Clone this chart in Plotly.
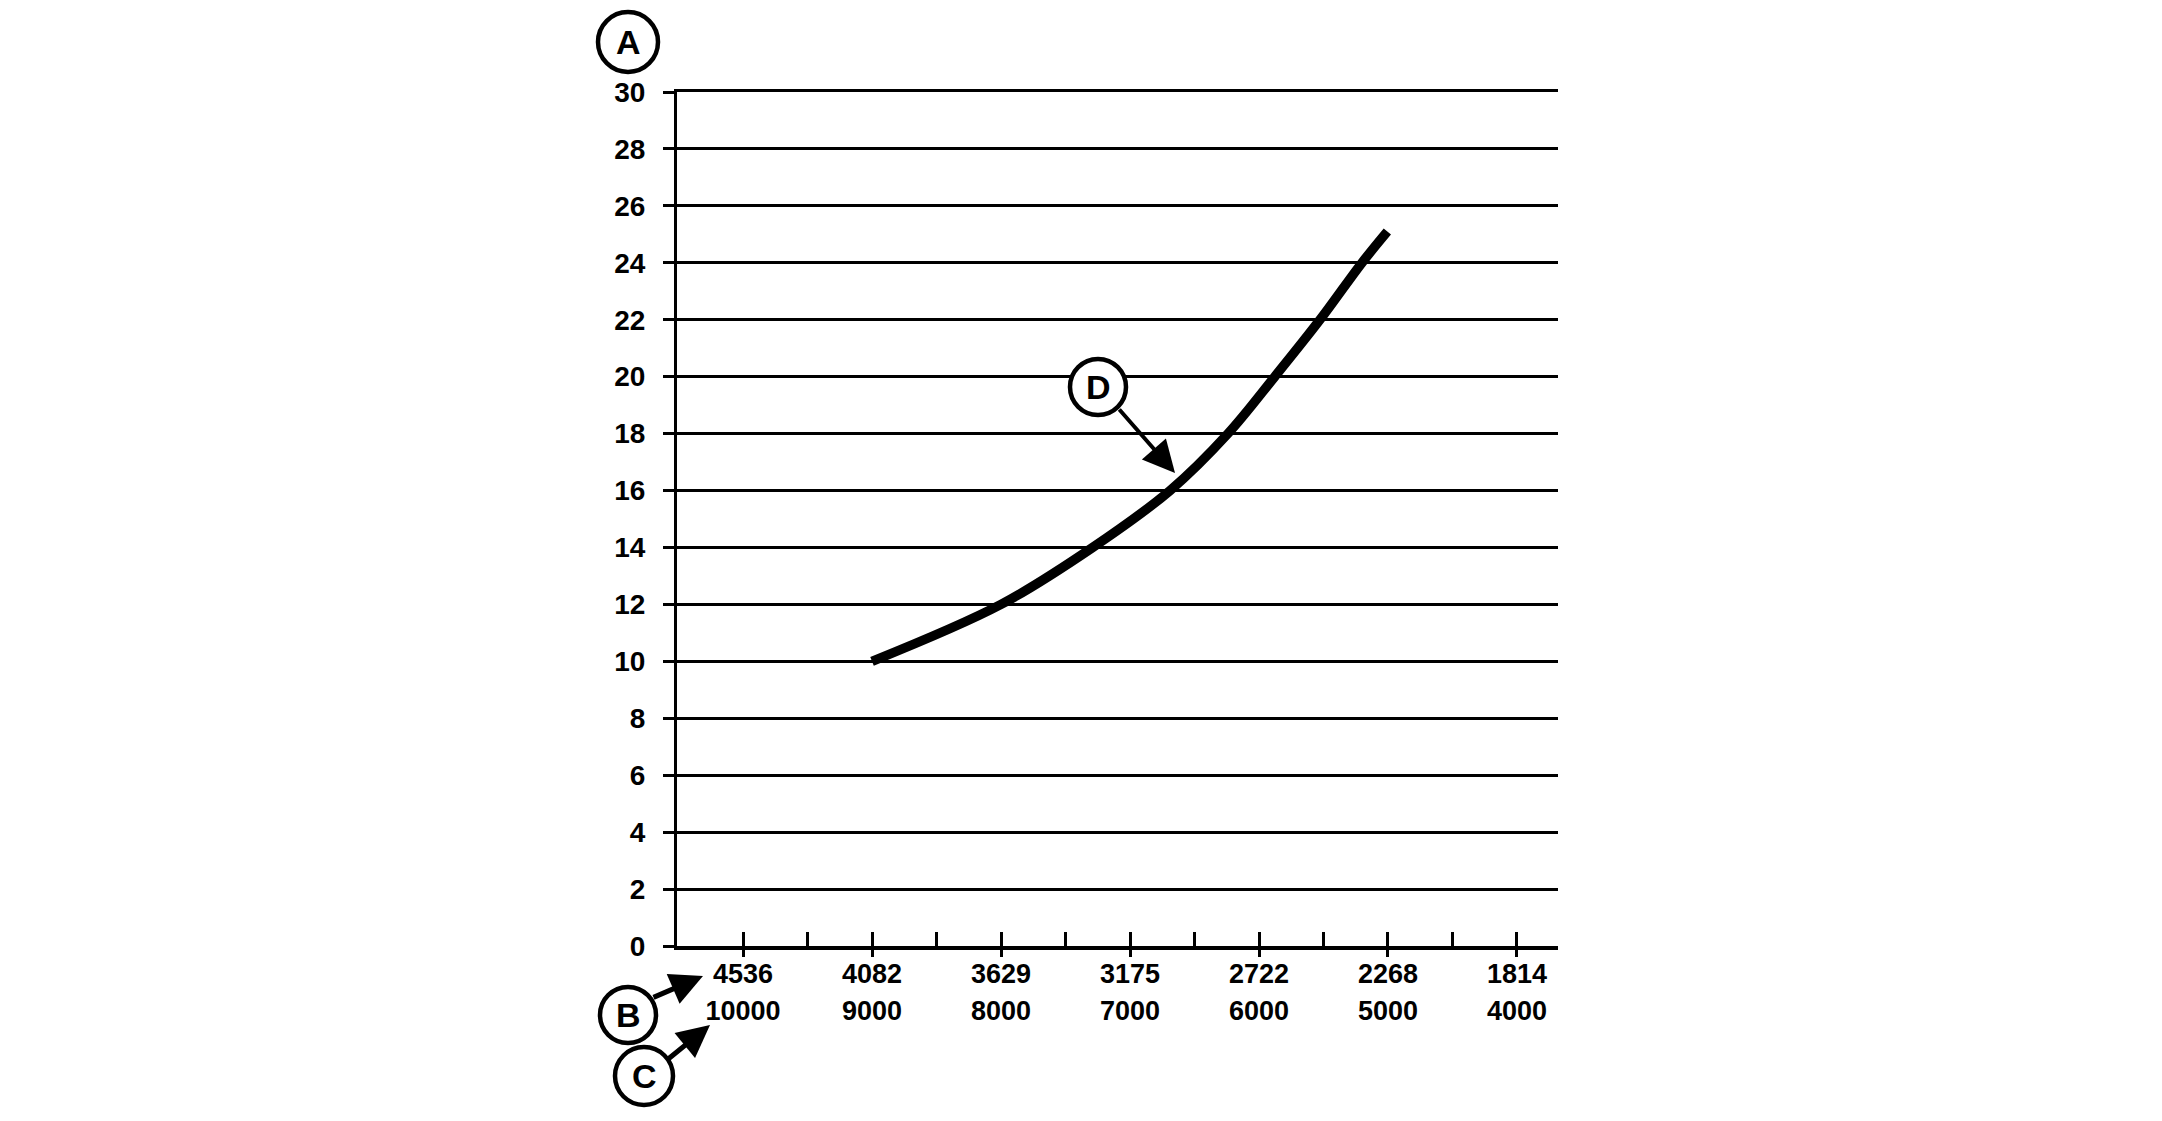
import plotly.graph_objects as go

# ---- data ----
weight_lb = [9000, 8000, 7290, 6690, 6241, 5878, 5527, 5202, 5005]
value_y = [10, 12, 14, 16, 18, 20, 22, 24, 25.1]

x_major_lb = [10000, 9000, 8000, 7000, 6000, 5000, 4000]
x_major_kg = ["4536", "4082", "3629", "3175", "2722", "2268", "1814"]
x_minor_lb = [9500, 8500, 7500, 6500, 5500, 4500]
y_ticks = list(range(0, 31, 2))

OFF = 8  # page body margin
W, H = 2162 - OFF, 1121 - OFF
L, R_EDGE, T, B_EDGE = 677 - OFF, 1558 - OFF, 92 - OFF, 946 - OFF
pw, ph = R_EDGE - L, B_EDGE - T


def px(xp):
    return (xp - OFF - L) / pw


def py(yp):
    return (B_EDGE - (yp - OFF)) / ph


FONT = "Liberation Sans"

fig = go.Figure()
fig.add_trace(go.Scatter(
    x=weight_lb, y=value_y, mode="lines",
    line=dict(color="black", width=9.5, shape="spline", smoothing=1.0),
    showlegend=False, hoverinfo="skip"))
# invisible traces so the overlay axes render
for ax_name in ["x2", "x3", "x4"]:
    fig.add_trace(go.Scatter(x=[x_major_lb[0]], y=[0], xaxis=ax_name, mode="markers",
                             marker=dict(opacity=0), showlegend=False, hoverinfo="skip"))

xr = [10512, 3682]
fig.update_layout(
    width=W, height=H,
    margin=dict(l=L, r=W - R_EDGE, t=T, b=H - B_EDGE, pad=0),
    plot_bgcolor="white", paper_bgcolor="white",
    font=dict(family=FONT, color="black"),
    xaxis=dict(
        range=xr, tickvals=x_major_lb, ticktext=x_major_kg,
        ticks="inside", ticklen=14, tickwidth=3, tickcolor="black",
        showgrid=False, zeroline=False, showline=True, linewidth=3.5, linecolor="black",
        tickfont=dict(size=27, family=FONT, weight="bold"),
        ticklabelstandoff=1,
        minor=dict(tickvals=x_minor_lb, ticks="inside", ticklen=14, tickwidth=3,
                   tickcolor="black", showgrid=False),
    ),
    xaxis2=dict(
        range=xr, overlaying="x", anchor="y", side="bottom",
        tickvals=x_major_lb, ticks="outside", ticklen=10, tickwidth=3, tickcolor="black",
        showticklabels=False, showgrid=False, zeroline=False, showline=False,
    ),
    xaxis3=dict(
        range=xr, overlaying="x", anchor="y", side="bottom",
        tickvals=x_major_lb, ticktext=[str(v) for v in x_major_lb], ticks="",
        tickfont=dict(size=27, family=FONT, weight="bold"),
        ticklabelstandoff=46,
        showgrid=False, zeroline=False, showline=False,
    ),
    xaxis4=dict(
        range=xr, overlaying="x", anchor="y", side="top",
        ticks="", showticklabels=False, showgrid=False, zeroline=False,
        showline=True, linewidth=2.5, linecolor="black",
    ),
    yaxis=dict(
        range=[0, 30], tickvals=y_ticks,
        ticks="outside", ticklen=11, tickwidth=2.5, tickcolor="black",
        showgrid=True, gridcolor="black", gridwidth=2.5,
        zeroline=False, showline=True, linewidth=3, linecolor="black",
        tickfont=dict(size=28, family=FONT, weight="bold"),
        ticklabelstandoff=12,
    ),
)

# callout circles (reference page coordinates)
callouts = [("A", 628, 42, 30), ("B", 628, 1015, 28), ("C", 644, 1076, 29), ("D", 1098, 387, 28)]
for letter, cx, cy, r in callouts:
    fig.add_shape(type="circle", xref="paper", yref="paper",
                  xsizemode="pixel", ysizemode="pixel",
                  xanchor=px(cx), yanchor=py(cy), x0=-r, x1=r, y0=-r, y1=r,
                  line=dict(color="black", width=4.5), fillcolor="white", layer="above")
    fig.add_annotation(x=px(cx), y=py(cy), xref="paper", yref="paper",
                       xanchor="center", yanchor="middle",
                       text=f"<b>{letter}</b>", showarrow=False,
                       font=dict(size=34, family=FONT, color="black"))

# arrows (tail -> head)
arrows = [((652, 998), (703, 976), 5, 1.3), ((667, 1060), (710, 1025), 5, 1.3),
          ((1118, 408), (1175, 473), 4, 1.6)]
for (tx, ty), (hx, hy), wdt, sz in arrows:
    fig.add_annotation(x=px(hx), y=py(hy), xref="paper", yref="paper",
                       ax=tx - hx, ay=ty - hy, axref="pixel", ayref="pixel",
                       text="", showarrow=True, arrowhead=2, arrowsize=sz,
                       arrowwidth=wdt, arrowcolor="black")

fig.write_html("out.html")
